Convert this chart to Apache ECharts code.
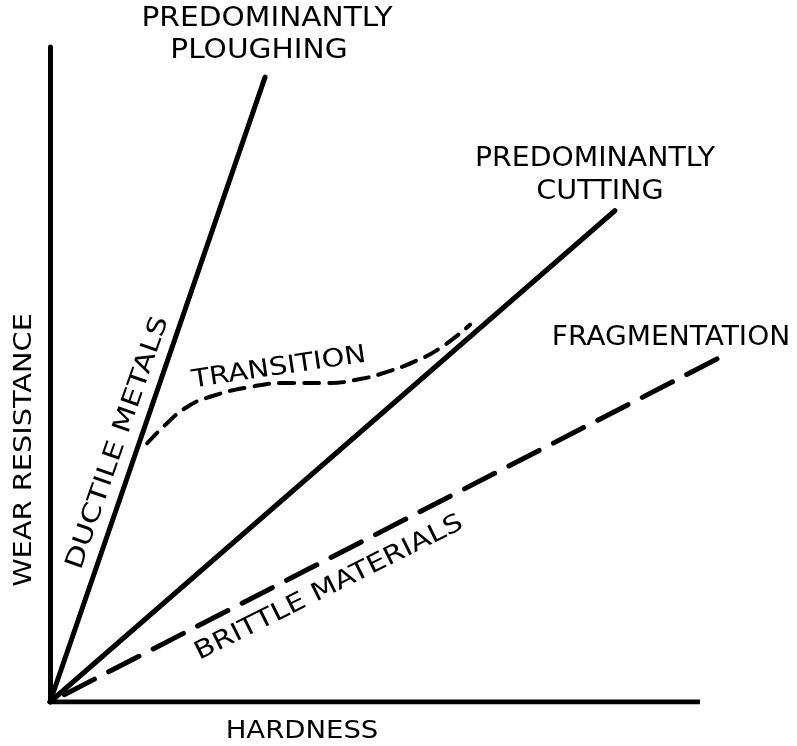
<!DOCTYPE html>
<html>
<head>
<meta charset="utf-8">
<script src="https://cdn.jsdelivr.net/npm/echarts@6/dist/echarts.min.js"></script>
<style>
  html, body { margin: 0; padding: 0; background: #fff; }
  #chart { width: 797px; height: 746px; }
</style>
</head>
<body>
<div id="chart"></div>
<script>
// schematic values (hardness 0..100, wear resistance 0..100)
const ploughingX = [0, 32.1]
const ploughingY = [0, 95.4]
const cuttingX = [0, 84.3]
const cuttingY = [0, 75.0]
const fragmentX = [0, 99.6]
const fragmentY = [0, 52.4]
const transitionX = [14.5, 17.5, 20.4, 23.9, 29.9, 35.4, 41.3, 46.3, 50.3, 54.2, 58.2, 62.7]
const transitionY = [39.5, 42.6, 45.0, 46.6, 48.1, 48.7, 48.7, 49.3, 50.4, 51.9, 54.0, 57.6]
const xAxisEnd = [0, 97]

const pairs = (xs, ys) => xs.map((x, i) => [x, ys[i]])

const chart = echarts.init(document.getElementById('chart'), null, { renderer: 'canvas' })

const font = 'DejaVu Sans'
// text label, stretched along its baseline to mimic the wide lettering
const txt = (text, x, y, size, sx, rot) => ({
  type: 'text',
  x: x,
  y: y,
  scaleX: sx,
  rotation: (rot || 0) * Math.PI / 180,
  style: {
    text: text,
    fill: '#000',
    font: `${size}px "${font}"`,
    align: 'center',
    verticalAlign: 'middle',
  },
})

const option = {
  backgroundColor: '#fff',
  animation: false,
  grid: { left: 50, right: 77, top: 47, bottom: 44 },
  xAxis: {
    type: 'value',
    min: 0,
    max: 100,
    axisLine: { show: false },
    axisTick: { show: false },
    axisLabel: { show: false },
    splitLine: { show: false },
  },
  yAxis: {
    type: 'value',
    min: 0,
    max: 100,
    axisLine: { show: true, lineStyle: { color: '#000', width: 5 } },
    axisTick: { show: false },
    axisLabel: { show: false },
    splitLine: { show: false },
  },
  series: [
    {
      name: 'axis',
      type: 'line',
      symbol: 'none',
      data: pairs(xAxisEnd, [0, 0]),
      lineStyle: { color: '#000', width: 5 },
    },
    {
      name: 'Predominantly ploughing',
      type: 'line',
      symbol: 'none',
      data: pairs(ploughingX, ploughingY),
      lineStyle: { color: '#000', width: 5, cap: 'round' },
    },
    {
      name: 'Predominantly cutting',
      type: 'line',
      symbol: 'none',
      data: pairs(cuttingX, cuttingY),
      lineStyle: { color: '#000', width: 5, cap: 'round' },
    },
    {
      name: 'Fragmentation',
      type: 'line',
      symbol: 'none',
      data: pairs(fragmentX, fragmentY),
      lineStyle: { color: '#000', width: 5, type: [34, 16], dashOffset: 34, cap: 'round' },
    },
    {
      name: 'Transition',
      type: 'line',
      symbol: 'none',
      smooth: true,
      data: pairs(transitionX, transitionY),
      lineStyle: { color: '#000', width: 4, type: [15, 10], cap: 'round' },
    },
  ],
  graphic: [
    txt('PREDOMINANTLY', 267, 19, 26, 1.14),
    txt('PLOUGHING', 259, 51, 26, 1.14),
    txt('PREDOMINANTLY', 595, 159, 26, 1.09),
    txt('CUTTING', 600, 192, 26, 1.1),
    txt('FRAGMENTATION', 671, 338, 26, 1.08),
    txt('TRANSITION', 279, 368, 25, 1.16, 8.5),
    txt('DUCTILE METALS', 118, 443, 25, 1.25, 70.8),
    txt('BRITTLE MATERIALS', 329, 588, 25, 1.19, 26.5),
    txt('WEAR RESISTANCE', 25, 450, 24, 1.2, 90),
    txt('HARDNESS', 302, 731, 25, 1.1),
  ],
}

chart.setOption(option)
</script>
</body>
</html>
